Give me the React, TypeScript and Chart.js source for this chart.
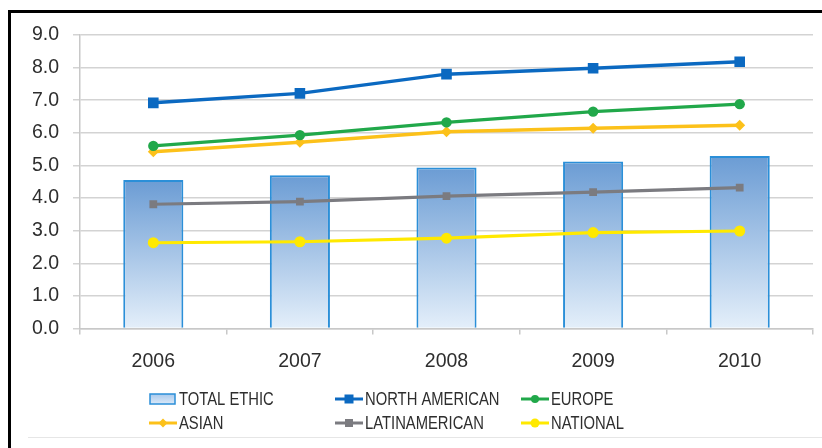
import React, { useEffect, useRef } from "react";
import { Chart, registerables } from "chart.js";

Chart.register(...registerables);

const years = ["2006", "2007", "2008", "2009", "2010"];
const totalEthic = [4.55, 4.7, 4.94, 5.12, 5.29];
const northAmerican = [6.92, 7.21, 7.8, 7.98, 8.18];
const europe = [5.6, 5.93, 6.32, 6.65, 6.88];
const asian = [5.42, 5.71, 6.03, 6.14, 6.23];
const latinAmerican = [3.81, 3.89, 4.06, 4.18, 4.32];
const national = [2.63, 2.66, 2.77, 2.94, 2.99];
const yTickValues = [0, 1, 2, 3, 4, 5, 6, 7, 8, 9];

const TEXT = "#2e2e2e";
const FONT_FAMILY = "'Liberation Sans', Arial, sans-serif";

const barTop = "#6b9cd4";
const barBottom = "#e4effa";
const barBorder = "#2b8fd8";

function drawMarker(ctx: CanvasRenderingContext2D, style: string, x: number, y: number, r: number, color: string) {
  ctx.save();
  ctx.fillStyle = color;
  ctx.beginPath();
  if (style === "rect") {
    ctx.rect(x - r, y - r, 2 * r, 2 * r);
  } else if (style === "rectRot") {
    ctx.moveTo(x - r, y);
    ctx.lineTo(x, y - r);
    ctx.lineTo(x + r, y);
    ctx.lineTo(x, y + r);
    ctx.closePath();
  } else {
    ctx.arc(x, y, r, 0, Math.PI * 2);
  }
  ctx.fill();
  ctx.restore();
}

const legendPlugin = {
  id: "customLegend",
  afterDraw(chart: any) {
    const ctx: CanvasRenderingContext2D = chart.ctx;
    const colX = [149, 335, 521];
    const rowY = [399, 423];
    const symW = 28;
    chart.data.datasets.forEach((ds: any, i: number) => {
      const col = i % 3;
      const row = Math.floor(i / 3);
      const x = colX[col];
      const y = rowY[row];
      ctx.save();
      if (ds.type === "bar") {
        const g = ctx.createLinearGradient(0, y - 5, 0, y + 5);
        g.addColorStop(0, "#a9c9ec");
        g.addColorStop(1, "#dbe9f8");
        ctx.fillStyle = g;
        ctx.fillRect(x + 1, y - 5, symW - 3, 10);
        ctx.strokeStyle = barBorder;
        ctx.lineWidth = 1.5;
        ctx.strokeRect(x + 1, y - 5, symW - 3, 10);
      } else {
        ctx.strokeStyle = ds.borderColor;
        ctx.lineWidth = 3;
        ctx.beginPath();
        ctx.moveTo(x, y);
        ctx.lineTo(x + symW, y);
        ctx.stroke();
        drawMarker(ctx, ds.pointStyle, x + symW / 2, y, ds.legendMarker, ds.borderColor);
      }
      ctx.fillStyle = TEXT;
      ctx.textBaseline = "middle";
      ctx.textAlign = "left";
      ctx.font = `17.5px ${FONT_FAMILY}`;
      ctx.translate(x + symW + 2, y + 1);
      ctx.scale(0.845, 1);
      ctx.fillText(ds.label, 0, 0);
      ctx.restore();
    });
  },
};

export default function App() {
  const canvasRef = useRef<HTMLCanvasElement | null>(null);

  useEffect(() => {
    if (!canvasRef.current) return;
    const tickFont = { family: FONT_FAMILY, size: 19.5 };
    const chart = new Chart(canvasRef.current, {
      type: "bar",
      data: {
        labels: years,
        datasets: [
          {
            type: "bar",
            label: "TOTAL ETHIC",
            data: totalEthic,
            order: 10,
            backgroundColor: (c: any) => {
              const ch = c.chart;
              if (!ch.chartArea || c.type !== "data") return "#9fc2e8";
              const y = ch.scales.y;
              const top = y.getPixelForValue(c.raw as number);
              const bottom = y.getPixelForValue(0);
              const g = ch.ctx.createLinearGradient(0, top, 0, bottom);
              g.addColorStop(0, barTop);
              g.addColorStop(1, barBottom);
              return g;
            },
            borderColor: barBorder,
            borderWidth: 2,
            categoryPercentage: 1,
            barPercentage: 0.41,
          } as any,
          {
            type: "line",
            label: "NORTH AMERICAN",
            data: northAmerican,
            order: 1,
            borderColor: "#0b69c1",
            backgroundColor: "#0b69c1",
            borderWidth: 3.5,
            pointStyle: "rect",
            pointRadius: 7.5,
            pointBorderWidth: 0,
            tension: 0,
            legendMarker: 4.5,
          } as any,
          {
            type: "line",
            label: "EUROPE",
            data: europe,
            order: 3,
            borderColor: "#21a84a",
            backgroundColor: "#21a84a",
            borderWidth: 3.2,
            pointStyle: "circle",
            pointRadius: 5.2,
            pointBorderWidth: 0,
            tension: 0,
            legendMarker: 4,
          } as any,
          {
            type: "line",
            label: "ASIAN",
            data: asian,
            order: 4,
            borderColor: "#fcc11a",
            backgroundColor: "#fcc11a",
            borderWidth: 3.5,
            pointStyle: "rectRot",
            pointRadius: 5.5,
            pointBorderWidth: 0,
            tension: 0,
            legendMarker: 4.5,
          } as any,
          {
            type: "line",
            label: "LATINAMERICAN",
            data: latinAmerican,
            order: 2,
            borderColor: "#7b7b80",
            backgroundColor: "#7b7b80",
            borderWidth: 3.2,
            pointStyle: "rect",
            pointRadius: 5.5,
            pointBorderWidth: 0,
            tension: 0,
            legendMarker: 4,
          } as any,
          {
            type: "line",
            label: "NATIONAL",
            data: national,
            order: 5,
            borderColor: "#ffe900",
            backgroundColor: "#ffe900",
            borderWidth: 3.2,
            pointStyle: "circle",
            pointRadius: 5.5,
            pointBorderWidth: 0,
            tension: 0,
            legendMarker: 4.5,
          } as any,
        ],
      },
      options: {
        responsive: true,
        maintainAspectRatio: false,
        animation: false,
        layout: { padding: { top: 35, right: 9, bottom: 69.5, left: 0 } },
        plugins: {
          legend: { display: false },
          tooltip: { enabled: false },
        },
        scales: {
          x: {
            offset: true,
            grid: { offset: true, drawOnChartArea: false, tickLength: 6, color: "#c8c8c8", lineWidth: 1.5 },
            border: { color: "#c8c8c8", width: 1.5 },
            ticks: { font: tickFont, color: TEXT, padding: 15, maxRotation: 0 },
            afterFit: (s: any) => {
              s.height = 50;
            },
          },
          y: {
            min: 0,
            max: 9,
            afterBuildTicks: (s: any) => {
              s.ticks = yTickValues.map((v) => ({ value: v }));
            },
            ticks: {
              font: tickFont,
              color: TEXT,
              padding: 14,
              callback: (v: any) => Number(v).toFixed(1),
            },
            grid: { color: "#d3d3d3", lineWidth: 1.5, tickLength: 7 },
            border: { color: "#c8c8c8", width: 1.5 },
            afterFit: (s: any) => {
              s.width = 80;
            },
          },
        },
      } as any,
      plugins: [legendPlugin],
    });
    return () => chart.destroy();
  }, []);

  return (
    <div style={{ position: "fixed", left: 0, top: 0, width: 822, height: 448, background: "#fff" }}>
      <canvas ref={canvasRef} />
      <div
        style={{
          position: "absolute",
          left: 8,
          top: 10,
          right: 0,
          bottom: 0,
          borderLeft: "3px solid #000",
          borderTop: "3px solid #000",
          pointerEvents: "none",
        }}
      />
      <div
        style={{
          position: "absolute",
          left: 28,
          right: 0,
          top: 437,
          height: 0,
          borderTop: "1px solid #e6e6e6",
          pointerEvents: "none",
        }}
      />
    </div>
  );
}
